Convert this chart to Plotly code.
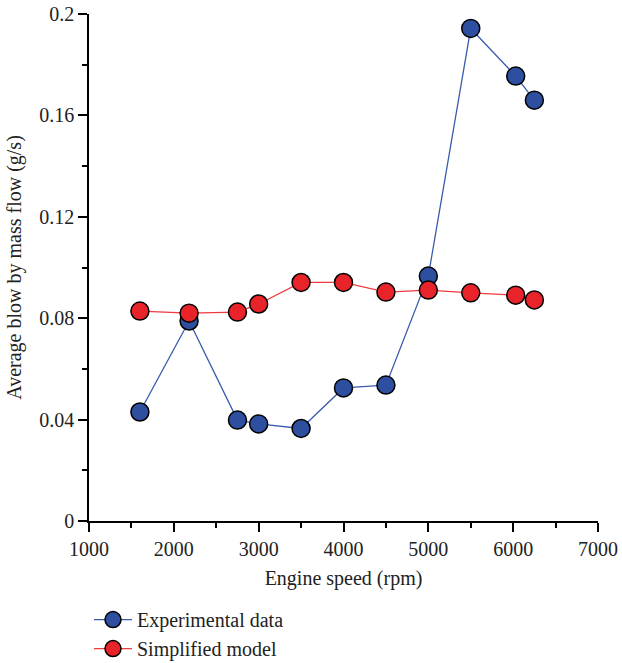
import plotly.graph_objects as go

speed = [1600, 2180, 2750, 3000, 3500, 4000, 4500, 5000, 5500, 6030, 6250]
experimental = [0.043, 0.0789, 0.0398, 0.0383, 0.0365, 0.0525, 0.0536, 0.0966, 0.1943, 0.1755, 0.166]
simplified = [0.0828, 0.0820, 0.0824, 0.0856, 0.0941, 0.0941, 0.0903, 0.0911, 0.0900, 0.0891, 0.0872]

x_ticks = [1000, 2000, 3000, 4000, 5000, 6000, 7000]
y_ticks = [0, 0.04, 0.08, 0.12, 0.16, 0.2]
y_ticktext = ["0", "0.04", "0.08", "0.12", "0.16", "0.2"]

FONT = "Liberation Serif"
FS = 20
TXT = "#222"
blue = "#2E4F9F"
red = "#E8232A"

fig = go.Figure()
fig.add_trace(go.Scatter(
    x=speed, y=experimental, mode="lines+markers", name="Experimental data",
    line=dict(color="#3A5BAE", width=1.3),
    marker=dict(size=18, color=blue, line=dict(color="black", width=1.5)),
))
fig.add_trace(go.Scatter(
    x=speed, y=simplified, mode="lines+markers", name="Simplified model",
    line=dict(color="#F03A3E", width=1.3),
    marker=dict(size=18, color=red, line=dict(color="black", width=1.5)),
))

axis_common = dict(
    showgrid=False, zeroline=False, showline=True, linecolor="black", linewidth=1.5,
    ticks="outside", ticklen=9, tickwidth=1.5, tickcolor="black",
    tickfont=dict(family=FONT, size=FS, color=TXT), automargin=False,
)
fig.update_xaxes(
    range=[1000, 7000], tickvals=x_ticks,
    minor=dict(dtick=500, tick0=1000, ticks="outside", ticklen=5, tickwidth=1.5, tickcolor="black"),
    title=dict(text="Engine speed (rpm)", font=dict(family=FONT, size=FS, color=TXT), standoff=12),
    **axis_common,
)
fig.update_yaxes(
    range=[0, 0.2], tickvals=y_ticks, ticktext=y_ticktext,
    minor=dict(dtick=0.02, tick0=0, ticks="outside", ticklen=5, tickwidth=1.5, tickcolor="black"),
    title=dict(text="Average blow by mass flow (g/s)", font=dict(family=FONT, size=FS, color=TXT), standoff=12),
    **axis_common,
)
fig.update_layout(
    width=622, height=663,
    margin=dict(l=89, r=24, t=14, b=142, autoexpand=False),
    plot_bgcolor="white", paper_bgcolor="white",
    showlegend=True,
    legend=dict(x=0, xanchor="left", y=-0.156, yanchor="top",
                font=dict(family=FONT, size=FS, color=TXT),
                bgcolor="rgba(0,0,0,0)", itemwidth=38, tracegroupgap=0),
)
fig.write_html("out.html")
